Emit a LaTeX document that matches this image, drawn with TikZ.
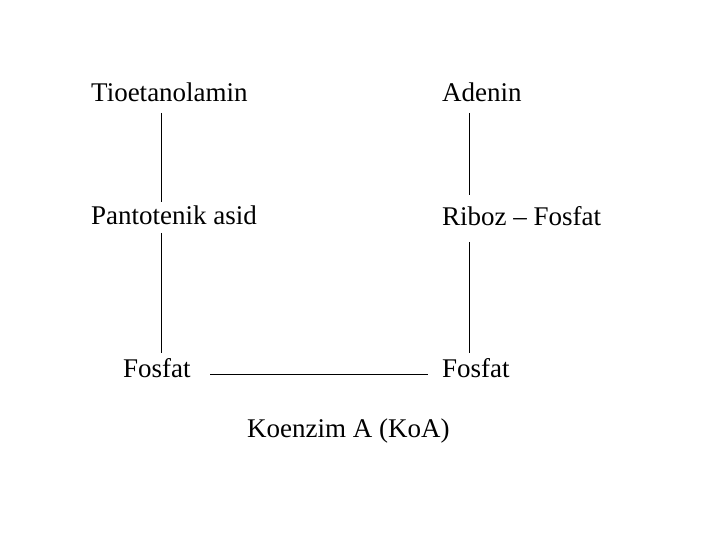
\documentclass[tikz,border=0pt]{standalone}
\usepackage{fontspec}
\setmainfont{Liberation Serif}
\usepackage{tikz}

\begin{document}
\begin{tikzpicture}[x=1pt, y=1pt,
	part/.style={anchor=base west, inner sep=0pt, font=\rmfamily\fontsize{27}{30}\selectfont},
	bond/.style={draw, line width=0.8pt}]
	\useasboundingbox (0,0) rectangle (720,540);
	\node [part] (tio) at (91,438) {Tioetanolamin};
	\node [part] (pant) at (91,315) {Pantotenik asid};
	\node [part] (fosL) at (123,162) {Fosfat};
	\node [part] (ade) at (442,438) {Adenin};
	\node [part] (rib) at (442,314) {Riboz -- Fosfat};
	\node [part] (fosR) at (442,162) {Fosfat};
	\node [part] (koa) at (247,102) {Koenzim A (KoA)};
	% left column
	\draw [bond] ([xshift=70pt, yshift=-11pt]tio.base west) -- ([xshift=70pt, yshift=23pt]pant.base west);
	\draw [bond] ([xshift=70pt, yshift=-8pt]pant.base west) -- ([xshift=38pt, yshift=25pt]fosL.base west);
	% right column
	\draw [bond] ([xshift=27pt, yshift=-11pt]ade.base west) -- ([xshift=27pt, yshift=31pt]rib.base west);
	\draw [bond] ([xshift=27pt, yshift=-16pt]rib.base west) -- ([xshift=27pt, yshift=25pt]fosR.base west);
	% bottom
	\draw [bond] ([xshift=87pt, yshift=4pt]fosL.base west) -- ([xshift=-14pt, yshift=4pt]fosR.base west);
\end{tikzpicture}
\end{document}
